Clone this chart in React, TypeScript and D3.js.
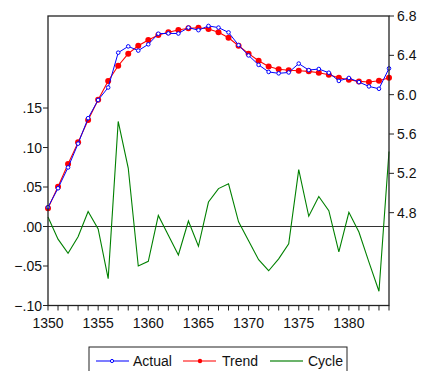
import { useEffect, useRef } from 'react';
import * as d3 from 'd3';

const years = d3.range(1350, 1385);

// log level
const actual = [
  4.856, 5.048, 5.260, 5.502, 5.761, 5.946, 6.073, 6.427, 6.491, 6.448,
  6.512, 6.620, 6.623, 6.622, 6.682, 6.656, 6.699, 6.682, 6.633, 6.504,
  6.399, 6.303, 6.231, 6.217, 6.226, 6.316, 6.250, 6.261, 6.223, 6.140,
  6.170, 6.128, 6.084, 6.060, 6.267
];

const trend = [
  4.844, 5.064, 5.294, 5.515, 5.742, 5.949, 6.139, 6.294, 6.417, 6.498,
  6.556, 6.606, 6.634, 6.658, 6.675, 6.681, 6.668, 6.634, 6.579, 6.498,
  6.417, 6.345, 6.287, 6.258, 6.248, 6.244, 6.237, 6.223, 6.203, 6.172,
  6.152, 6.135, 6.129, 6.142, 6.172
];

// left axis
const cycle = [
  0.012, -0.016, -0.034, -0.013, 0.019, -0.003, -0.066, 0.133, 0.074, -0.050,
  -0.044, 0.014, -0.011, -0.036, 0.007, -0.025, 0.031, 0.048, 0.054, 0.006,
  -0.018, -0.042, -0.056, -0.041, -0.022, 0.072, 0.013, 0.038, 0.020, -0.032,
  0.018, -0.007, -0.045, -0.082, 0.095
];

const leftTicks = [-0.10, -0.05, 0, 0.05, 0.10, 0.15];
const rightTicks = [4.8, 5.2, 5.6, 6.0, 6.4, 6.8];
const xLabels = [1350, 1355, 1360, 1365, 1370, 1375, 1380];

const font = '"Liberation Sans", Arial, sans-serif';

export default function App() {
  const svgRef = useRef<SVGSVGElement | null>(null);

  useEffect(() => {
    if (!svgRef.current) return;
    const svg = d3.select(svgRef.current);
    svg.selectAll('*').remove();

    const width = 424;
    const height = 371;
    const margin = { top: 16, right: 35, bottom: 65.5, left: 48 };
    const x0 = margin.left;
    const x1 = width - margin.right;
    const y0 = height - margin.bottom;
    const y1 = margin.top;

    const x = d3.scaleLinear().domain([1350, 1384]).range([x0, x1]);
    const yL = d3.scaleLinear().domain([-0.10, 0.2665]).range([y0, y1]);
    const yR = d3.scaleLinear().domain([3.856, 6.8]).range([y0, y1]);

    svg.attr('width', width).attr('height', height);

    // zero line
    svg.append('line')
      .attr('x1', x0).attr('x2', x1)
      .attr('y1', yL(0)).attr('y2', yL(0))
      .attr('stroke', '#333').attr('stroke-width', 1.2);

    // cycle
    const cycLine = d3.line<number>()
      .x((_, i) => x(years[i]))
      .y(d => yL(d));
    svg.append('path')
      .datum(cycle)
      .attr('d', cycLine)
      .attr('fill', 'none')
      .attr('stroke', '#008000')
      .attr('stroke-width', 1.1);

    const lvlLine = d3.line<number>()
      .x((_, i) => x(years[i]))
      .y(d => yR(d));

    // trend
    svg.append('path')
      .datum(trend)
      .attr('d', lvlLine)
      .attr('fill', 'none')
      .attr('stroke', '#ff0000')
      .attr('stroke-width', 1.1);
    svg.append('g')
      .selectAll('circle')
      .data(trend)
      .join('circle')
      .attr('cx', (_, i) => x(years[i]))
      .attr('cy', d => yR(d))
      .attr('r', 3)
      .attr('fill', '#ff0000');

    // actual
    svg.append('path')
      .datum(actual)
      .attr('d', lvlLine)
      .attr('fill', 'none')
      .attr('stroke', '#0000ff')
      .attr('stroke-width', 1);
    svg.append('g')
      .selectAll('circle')
      .data(actual)
      .join('circle')
      .attr('cx', (_, i) => x(years[i]))
      .attr('cy', d => yR(d))
      .attr('r', 1.8)
      .attr('fill', '#fff')
      .attr('stroke', '#0000ff')
      .attr('stroke-width', 1);

    // frame
    svg.append('rect')
      .attr('x', x0).attr('y', y1)
      .attr('width', x1 - x0).attr('height', y0 - y1)
      .attr('fill', 'none')
      .attr('stroke', '#222')
      .attr('stroke-width', 1.3);

    // left axis
    const gl = svg.append('g');
    leftTicks.forEach(t => {
      gl.append('line')
        .attr('x1', x0 - 5).attr('x2', x0)
        .attr('y1', yL(t)).attr('y2', yL(t))
        .attr('stroke', '#222');
      gl.append('text')
        .attr('x', x0 - 6).attr('y', yL(t))
        .attr('dy', '0.36em')
        .attr('text-anchor', 'end')
        .attr('font-family', font)
        .attr('font-size', 14)
        .attr('fill', '#111')
        .text(d3.format('.2f')(t).replace('0.', '.'));
    });

    // right axis
    const gr = svg.append('g');
    rightTicks.forEach(t => {
      gr.append('line')
        .attr('x1', x1).attr('x2', x1 + 5)
        .attr('y1', yR(t)).attr('y2', yR(t))
        .attr('stroke', '#222');
      gr.append('text')
        .attr('x', x1 + 8).attr('y', yR(t))
        .attr('dy', '0.36em')
        .attr('font-family', font)
        .attr('font-size', 14)
        .attr('fill', '#111')
        .text(d3.format('.1f')(t));
    });

    // bottom axis
    const gb = svg.append('g');
    years.forEach(yr => {
      gb.append('line')
        .attr('x1', x(yr)).attr('x2', x(yr))
        .attr('y1', y0).attr('y2', y0 + 5)
        .attr('stroke', '#222');
    });
    xLabels.forEach(yr => {
      gb.append('text')
        .attr('x', x(yr)).attr('y', y0 + 17)
        .attr('dy', '0.36em')
        .attr('text-anchor', 'middle')
        .attr('font-family', font)
        .attr('font-size', 14)
        .attr('fill', '#111')
        .text(yr);
    });

    // legend
    const lg = svg.append('g');
    lg.append('rect')
      .attr('x', 89).attr('y', 347)
      .attr('width', 258).attr('height', 30)
      .attr('fill', '#fff')
      .attr('stroke', '#222');
    const ly = 361;
    const items = [
      { name: 'Actual', color: '#5050ff', lx: 96, tx: 133 },
      { name: 'Trend', color: '#ff5050', lx: 183, tx: 222 },
      { name: 'Cycle', color: '#3a9a3a', lx: 270, tx: 308 }
    ];
    items.forEach(it => {
      lg.append('line')
        .attr('x1', it.lx).attr('x2', it.lx + 33)
        .attr('y1', ly).attr('y2', ly)
        .attr('stroke', it.color).attr('stroke-width', 1.5);
      lg.append('text')
        .attr('x', it.tx).attr('y', ly)
        .attr('dy', '0.36em')
        .attr('font-family', font)
        .attr('font-size', 14)
        .attr('fill', '#111')
        .text(it.name);
    });
    lg.append('circle')
      .attr('cx', 112).attr('cy', ly).attr('r', 1.6)
      .attr('fill', '#fff').attr('stroke', '#0000ff');
    lg.append('circle')
      .attr('cx', 200).attr('cy', ly).attr('r', 2.2)
      .attr('fill', '#ff0000');
  }, []);

  return (
    <svg
      ref={svgRef}
      width={424}
      height={371}
      style={{ position: 'absolute', left: 0, top: 0, background: '#fff' }}
    ></svg>
  );
}
